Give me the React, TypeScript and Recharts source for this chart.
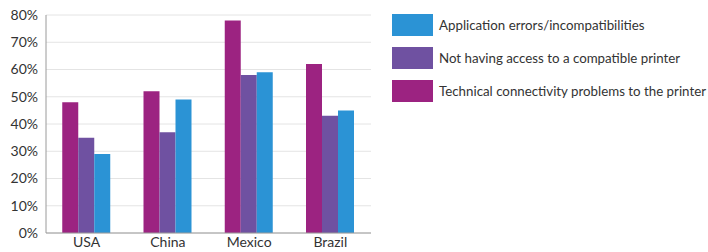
import { BarChart, Bar, XAxis, YAxis, CartesianGrid } from 'recharts';

const countries = ['USA', 'China', 'Mexico', 'Brazil'];
const technical = [48, 52, 78, 62];
const noAccess = [35, 37, 58, 43];
const appErrors = [29, 49, 59, 45];
const yTicks = [0, 10, 20, 30, 40, 50, 60, 70, 80];

const SERIES = [
  { key: 'technical', name: 'Technical connectivity problems to the printer', color: '#9c2381' },
  { key: 'noAccess', name: 'Not having access to a compatible printer', color: '#6f51a1' },
  { key: 'appErrors', name: 'Application errors/incompatibilities', color: '#2b93d5' },
];

const data = countries.map((c, i) => ({
  country: c,
  technical: technical[i],
  noAccess: noAccess[i],
  appErrors: appErrors[i],
}));

const FONT = 'Lato, "Open Sans", sans-serif';

export default function App() {
  const legendItems = [...SERIES].reverse();
  return (
    <div style={{ position: 'absolute', left: 0, top: 0, width: 708, height: 252, background: '#fff', fontFamily: FONT }}>
      <BarChart
        width={708}
        height={252}
        data={data}
        margin={{ top: 15, right: 337, bottom: 0, left: 0 }}
        barCategoryGap="20%"
        barGap={0}
      >
        <CartesianGrid vertical={false} stroke="#e4e4e4" />
        <XAxis
          dataKey="country"
          height={19}
          tickLine={false}
          stroke="#9a9a9a"
          tick={{ fill: '#333', fontSize: 14, fontFamily: FONT }}
          tickMargin={-2}
        />
        <YAxis
          width={46}
          domain={[0, 80]}
          ticks={yTicks}
          tickFormatter={(v: number) => `${v}%`}
          tickLine={false}
          stroke="#9a9a9a"
          tick={{ fill: '#333', fontSize: 14, fontFamily: FONT }}
          tickMargin={2}
          interval={0}
        />
        {SERIES.map((s) => (
          <Bar key={s.key} dataKey={s.key} name={s.name} fill={s.color} isAnimationActive={false} />
        ))}
      </BarChart>
      <div style={{ position: 'absolute', left: 392, top: 14 }}>
        {legendItems.map((s) => (
          <div key={s.key} style={{ display: 'flex', alignItems: 'center', height: 22, marginBottom: 11 }}>
            <div style={{ width: 41, height: 22, background: s.color }} />
            <span style={{ marginLeft: 6, fontSize: 13.3, color: '#333' }}>{s.name}</span>
          </div>
        ))}
      </div>
    </div>
  );
}
